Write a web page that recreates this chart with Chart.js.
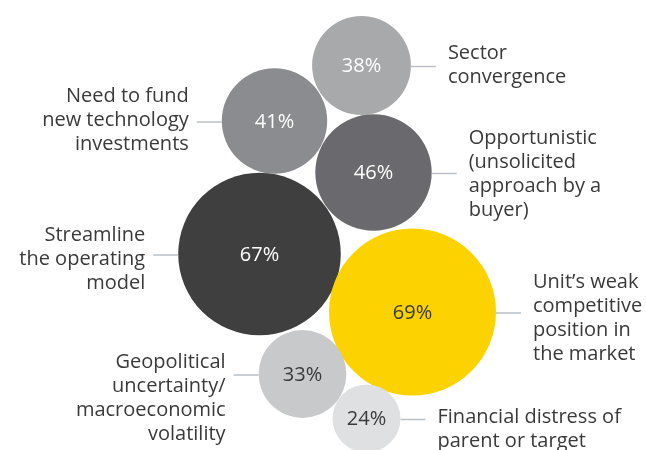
<!DOCTYPE html>
<html>
<head>
<meta charset="utf-8">
<script src="https://cdn.jsdelivr.net/npm/chart.js@4"></script>
<style>
  html, body { margin: 0; padding: 0; background: #fff; }
  #wrap { width: 646px; height: 450px; position: relative; }
</style>
</head>
<body>
<div id="wrap"><canvas id="chart"></canvas></div>
<script>
// reasons for divestment, share of respondents (%)
var categories = [
    ['Sector', 'convergence']
  , ['Need to fund', 'new technology', 'investments']
  , ['Opportunistic', '(unsolicited', 'approach by a', 'buyer)']
  , ['Streamline', 'the operating', 'model']
  , ['Unit\u2019s weak', 'competitive', 'position in', 'the market']
  , ['Geopolitical', 'uncertainty/', 'macroeconomic', 'volatility']
  , ['Financial distress of', 'parent or target']
]
var shares  = [38, 41, 46, 67, 69, 33, 24]
// packed layout of the bubbles (chart units)
var bubbleX = [361.5, 274.5, 373.5, 259.5, 412.5, 302.5, 366.5]
var bubbleY = [65.5, 121, 172.5, 254, 312, 374, 418.5]

var
    fills      = ['#a8a9ab', '#8b8c8f', '#6a6a6e', '#3f3f3f', '#fcd200', '#c8c9cb', '#dfe0e2']
  , valueInk   = ['#fff', '#fff', '#fff', '#fff', '#3a3a3a', '#3a3a3a', '#3a3a3a']
  , labelSide  = ['right', 'left', 'right', 'left', 'right', 'left', 'right']
  , firstLineY = [-13, -26, -35, -20, -31, -13, -2]   // first label line relative to leader
  , font       = '"Open Sans", "DejaVu Sans", sans-serif'

var labelPlugin = {
  id: 'bubbleLabels',
  afterDatasetsDraw: function (chart) {
    var
        ctx  = chart.ctx
      , meta = chart.getDatasetMeta(0)

    ctx.save()
    meta.data.forEach(function (pt, i) {
      var
          r    = pt.options.radius
        , y    = pt.y + 1
        , side = labelSide[i]
        , x0   = side === 'right' ? pt.x + r : pt.x - r
        , x1   = side === 'right' ? x0 + 25 : x0 - 25

      // value in the middle of the bubble
      ctx.fillStyle = valueInk[i]
      ctx.font = '20px ' + font
      ctx.textAlign = 'center'
      ctx.textBaseline = 'middle'
      ctx.fillText(shares[i] + '%', pt.x, y)

      // leader
      ctx.strokeStyle = '#b9c0c7'
      ctx.lineWidth = 1.5
      ctx.beginPath()
      ctx.moveTo(x0, y)
      ctx.lineTo(x1, y)
      ctx.stroke()

      // category text
      ctx.fillStyle = '#3a3a3a'
      ctx.font = '20px ' + font
      ctx.textAlign = side === 'right' ? 'left' : 'right'
      var tx = side === 'right' ? x1 + 12 : x1 - 8
      categories[i].forEach(function (line, k) {
        ctx.fillText(line, tx, y + firstLineY[i] + k * 24)
      })
    })
    ctx.restore()
  }
}

var points = shares.map(function (v, i) {
  return { x: bubbleX[i], y: bubbleY[i], v: v }
})

new Chart(document.getElementById('chart'), {
  type: 'bubble',
  data: {
    datasets: [{
      data: points,
      backgroundColor: fills,
      borderWidth: 0,
      hoverBorderWidth: 0,
      clip: false,
      radius: function (c) { return c.raw ? 1.1 * c.raw.v + 7.6 : 0 }
    }]
  },
  options: {
    responsive: true,
    maintainAspectRatio: false,
    animation: false,
    events: [],
    layout: { padding: 0, autoPadding: false },
    scales: {
      x: { type: 'linear', min: 0, max: 646, display: false },
      y: { type: 'linear', min: 0, max: 450, reverse: true, display: false }
    },
    plugins: {
      legend: { display: false },
      tooltip: { enabled: false }
    }
  },
  plugins: [labelPlugin]
})
</script>
</body>
</html>
